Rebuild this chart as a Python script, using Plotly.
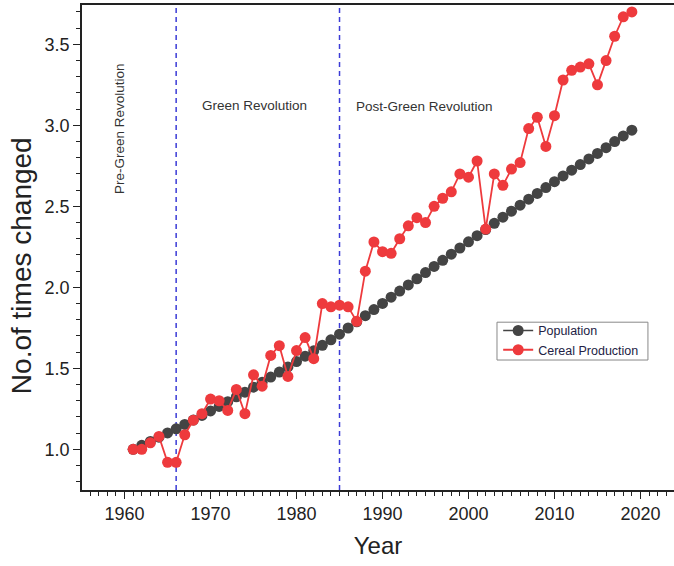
import plotly.graph_objects as go

years = list(range(1961, 2020))

population = [
    1.000, 1.025, 1.049, 1.075, 1.101, 1.127, 1.154, 1.181, 1.209, 1.237,
    1.265, 1.294, 1.324, 1.353, 1.384, 1.414, 1.446, 1.477, 1.509, 1.542,
    1.575, 1.608, 1.642, 1.676, 1.711, 1.749, 1.787, 1.825, 1.863, 1.901,
    1.939, 1.977, 2.015, 2.053, 2.091, 2.129, 2.167, 2.205, 2.243, 2.281,
    2.319, 2.357, 2.395, 2.433, 2.470, 2.507, 2.544, 2.580, 2.616, 2.652,
    2.688, 2.723, 2.758, 2.793, 2.827, 2.862, 2.900, 2.935, 2.970,
]

cereal = [
    1.00, 1.00, 1.04, 1.08, 0.92, 0.92, 1.09, 1.18, 1.22, 1.31,
    1.30, 1.24, 1.37, 1.22, 1.46, 1.39, 1.58, 1.64, 1.45, 1.61,
    1.69, 1.56, 1.90, 1.88, 1.89, 1.88, 1.79, 2.10, 2.28, 2.22,
    2.21, 2.30, 2.38, 2.43, 2.40, 2.50, 2.55, 2.59, 2.70, 2.68,
    2.78, 2.36, 2.70, 2.63, 2.73, 2.77, 2.98, 3.05, 2.87, 3.06,
    3.28, 3.34, 3.36, 3.38, 3.25, 3.40, 3.55, 3.67, 3.70,
]

period_breaks = [1966, 1985]
period_labels = ["Pre-Green Revolution", "Green Revolution", "Post-Green Revolution"]

x_ticks = [1960, 1970, 1980, 1990, 2000, 2010, 2020]
y_ticks = [1.0, 1.5, 2.0, 2.5, 3.0, 3.5]

FONT = "Liberation Sans, Arial, sans-serif"

fig = go.Figure()

fig.add_trace(go.Scatter(
    x=years, y=population, name="Population", mode="lines+markers",
    line=dict(color="#444444", width=1.5),
    marker=dict(color="#444444", size=11),
))
fig.add_trace(go.Scatter(
    x=years, y=cereal, name="Cereal Production", mode="lines+markers",
    line=dict(color="#ee3a3d", width=1.8),
    marker=dict(color="#ee3a3d", size=11),
))

# dashed separators between the three periods
for yr in period_breaks:
    fig.add_shape(type="line", xref="x", yref="paper", x0=yr, x1=yr, y0=0, y1=1,
                  line=dict(color="#3b3bd6", width=1.5, dash="5px,4px"), layer="below")

ann_font = dict(family=FONT, size=13.5, color="#333333")
fig.add_annotation(x=1959.4, y=2.98, xref="x", yref="y", text=period_labels[0],
                   textangle=-90, showarrow=False, font=ann_font)
fig.add_annotation(x=1968.8, y=3.125, xref="x", yref="y", text=period_labels[1],
                   xanchor="left", showarrow=False, font=ann_font)
fig.add_annotation(x=1986.7, y=3.115, xref="x", yref="y", text=period_labels[2],
                   xanchor="left", showarrow=False, font=ann_font)

# y-axis title, placed a little below the plot centre
fig.add_annotation(x=-0.101, y=0.462, xref="paper", yref="paper",
                   xanchor="center", yanchor="middle",
                   text="No.of times changed", textangle=-90, showarrow=False,
                   font=dict(family=FONT, size=28, color="#222222"))

# legend frame
fig.add_shape(type="rect", xref="paper", yref="paper",
              x0=0.701, x1=0.956, y0=0.268, y1=0.346,
              line=dict(color="#888888", width=1), fillcolor="white", layer="below")

fig.update_layout(
    width=674, height=566,
    margin=dict(l=82, r=0, t=5, b=76),
    paper_bgcolor="white", plot_bgcolor="white",
    font=dict(family=FONT, color="#222222"),
    showlegend=True,
    legend=dict(
        x=0.703, y=0.359, xanchor="left", yanchor="top",
        bgcolor="rgba(0,0,0,0)", borderwidth=0,
        font=dict(family=FONT, size=12.5, color="#222244"),
        tracegroupgap=0, itemwidth=30,
    ),
    xaxis=dict(
        range=[1955.05, 2023.9],
        tickvals=x_ticks, ticks="outside", ticklen=7, tickwidth=1.3, tickcolor="#222222",
        minor=dict(dtick=1, tick0=1960, ticks="outside", ticklen=4, tickwidth=1, tickcolor="#222222"),
        showline=True, linecolor="#222222", linewidth=1.6, mirror=True,
        showgrid=False, zeroline=False,
        tickfont=dict(family=FONT, size=18, color="#222222"),
        title=dict(text="Year", font=dict(family=FONT, size=24, color="#222222"), standoff=14),
    ),
    yaxis=dict(
        range=[0.749, 3.743],
        tickvals=y_ticks, tickformat=".1f", ticks="outside", ticklen=7, tickwidth=1.3,
        tickcolor="#222222",
        minor=dict(dtick=0.1, tick0=0, ticks="outside", ticklen=4, tickwidth=1, tickcolor="#222222"),
        showline=True, linecolor="#222222", linewidth=1.6,
        showgrid=False, zeroline=False,
        tickfont=dict(family=FONT, size=18, color="#222222"),
    ),
)

fig.write_html("out.html")
